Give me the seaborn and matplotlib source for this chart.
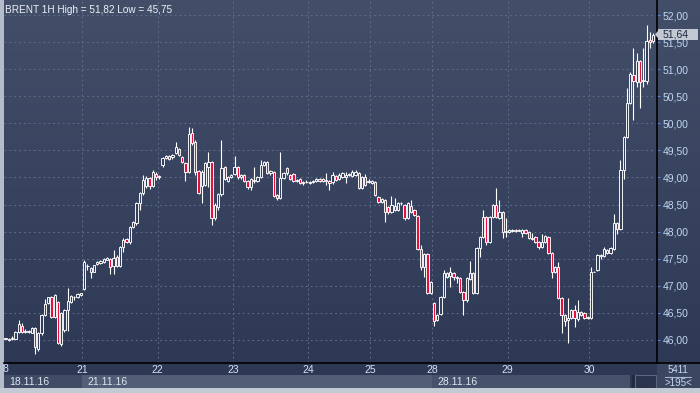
import numpy as np
import pandas as pd
import matplotlib
matplotlib.use("Agg")
import matplotlib.pyplot as plt
import matplotlib.transforms as mtransforms
from matplotlib.patches import Rectangle, Polygon
from matplotlib.colors import LinearSegmentedColormap
import seaborn as sns

# ── Styling ────────────────────────────────────────────────
sns.set_style("dark")
plt.rcParams["font.family"] = ["Liberation Sans", "DejaVu Sans"]

# ── Data (BRENT 1H candles) ────────────────────────────────
opens = [
    46.03, 46.02, 46.01, 46.02, 46.14, 46.25, 46.15, 46.16, 46.13, 46.22, 45.83, 46.13,
    46.46, 46.68, 46.79, 46.43, 46.70, 45.93, 46.19, 46.55, 46.70, 46.80, 46.80, 46.83,
    46.94, 47.37, 47.33, 47.26, 47.40, 47.42, 47.44, 47.48, 47.50, 47.36, 47.53, 47.37,
    47.72, 47.86, 47.81, 48.09, 48.16, 48.53, 48.71, 48.84, 48.99, 48.84, 49.07,
    49.00, 49.23, 49.36, 49.39, 49.37, 49.45, 49.53, 49.38, 49.27, 49.10, 49.82, 49.66,
    49.12, 48.84, 48.86, 49.20, 49.29, 48.25, 48.46, 48.69, 49.20, 48.94, 49.01,
    49.07, 49.20, 49.01, 49.05, 48.94, 48.82, 48.96, 48.94, 49.01, 49.23, 49.28, 49.09,
    49.10, 48.68, 48.62, 48.99, 49.18, 49.05, 49.07, 48.94, 48.97, 48.90, 48.91,
    48.92, 48.91, 48.94, 48.97, 48.94, 48.96, 48.94, 48.91, 49.03, 48.97, 49.01, 49.01,
    49.05, 49.03, 49.05, 49.08, 48.80, 49.01, 48.92,
    48.90, 48.92, 48.64, 48.55, 48.58, 48.45, 48.36, 48.47, 48.40, 48.53, 48.49, 48.25,
    48.47, 48.40, 48.29, 47.68, 47.35, 47.59, 46.87,
    46.68, 46.37, 46.48, 46.79, 47.24, 47.18, 47.24, 47.15, 47.14, 46.89, 46.73, 47.12,
    47.24, 46.87, 47.70, 47.90, 48.27, 47.81, 48.27, 48.49, 48.25, 48.36, 48.00,
    47.99, 48.02, 48.03, 48.02, 47.97, 48.03, 47.99, 47.87, 47.90, 47.81, 47.72, 47.81,
    47.90, 47.61, 47.26, 47.35, 46.78, 46.46, 46.37, 46.41, 46.55, 46.39, 46.52, 46.50,
    46.41,
    46.41, 47.26, 47.30, 47.57, 47.55, 47.66, 47.61, 47.68, 48.16, 48.05, 49.14, 49.75,
    50.38, 50.89, 50.76, 51.15, 50.78, 50.78, 51.54, 51.52,
]
highs = [
    46.04, 46.03, 46.07, 46.16, 46.36, 46.32, 46.20, 46.18, 46.24, 46.24, 46.14, 46.48,
    46.76, 46.80, 46.82, 46.84, 46.72, 46.52, 46.57, 46.96, 46.83, 46.82, 46.86, 46.87,
    47.47, 47.40, 47.35, 47.39, 47.46, 47.48, 47.52, 47.53, 47.52, 47.66, 47.56, 47.74,
    47.88, 47.88, 48.11, 48.20, 48.55, 48.74, 49.05, 49.02, 49.01, 49.13, 49.10,
    49.05, 49.38, 49.41, 49.41, 49.43, 49.66, 49.55, 49.40, 49.29, 49.93, 49.91, 49.70,
    49.14, 49.14, 49.29, 49.47, 49.31, 48.52, 48.71, 49.69, 49.22, 49.03, 49.06,
    49.40, 49.22, 49.07, 49.07, 48.96, 48.99, 49.20, 49.03, 49.32, 49.31, 49.30, 49.14,
    49.12, 48.70, 49.47, 49.10, 49.20, 49.07, 49.09, 48.98, 48.99, 48.93, 48.96,
    48.94, 48.96, 48.99, 48.99, 48.99, 49.08, 48.96, 49.10, 49.05, 49.08, 49.10, 49.10,
    49.08, 49.13, 49.13, 49.10, 49.02, 49.07, 48.97,
    48.96, 48.94, 48.66, 48.62, 48.60, 48.47, 48.65, 48.62, 48.55, 48.55, 48.51, 48.55,
    48.58, 48.42, 48.31, 47.75, 47.61, 47.61, 47.09,
    46.70, 46.48, 46.81, 47.30, 47.26, 47.35, 47.26, 47.18, 47.16, 46.91, 47.16, 47.46,
    47.26, 47.72, 47.92, 48.40, 48.29, 48.29, 48.51, 48.81, 48.58, 48.38, 48.25,
    48.05, 48.05, 48.04, 48.04, 48.05, 48.05, 48.01, 47.97, 47.92, 47.83, 47.95, 47.94,
    47.92, 47.63, 47.37, 47.44, 46.80, 46.48, 46.78, 46.57, 46.65, 46.74, 46.54, 46.52,
    46.44,
    47.35, 47.27, 47.59, 47.59, 47.72, 47.68, 47.72, 48.33, 48.18, 49.32, 49.77, 50.65,
    50.95, 51.39, 51.30, 51.17, 51.39, 51.82, 51.68, 51.67,
]
lows = [
    46.01, 45.99, 46.00, 46.01, 46.12, 46.12, 46.13, 46.13, 46.12, 45.75, 45.80, 46.10,
    46.44, 46.66, 46.41, 46.41, 45.92, 45.88, 46.15, 46.17, 46.68, 46.74, 46.78, 46.82,
    46.93, 47.30, 47.14, 47.25, 47.39, 47.40, 47.43, 47.47, 47.21, 47.21, 47.35, 47.35,
    47.62, 47.79, 47.78, 48.06, 48.12, 48.40, 48.68, 48.80, 48.78, 48.82, 48.95,
    48.97, 49.20, 49.35, 49.33, 49.35, 49.44, 49.40, 49.27, 48.94, 49.08, 49.60, 49.05,
    48.69, 48.53, 48.84, 48.82, 48.12, 48.22, 48.40, 48.66, 48.95, 48.92, 48.99,
    49.05, 48.98, 48.98, 48.92, 48.79, 48.76, 48.90, 48.92, 48.99, 49.21, 49.06, 49.05,
    48.64, 48.58, 48.60, 48.97, 49.05, 48.95, 48.92, 48.92, 48.88, 48.86, 48.89,
    48.88, 48.89, 48.92, 48.91, 48.92, 48.86, 48.77, 48.88, 48.94, 48.95, 48.99, 48.90,
    49.03, 49.01, 49.03, 48.78, 48.78, 48.84, 48.90,
    48.88, 48.66, 48.53, 48.53, 48.18, 48.33, 48.34, 48.38, 48.38, 48.50, 48.22, 48.23,
    48.34, 48.29, 47.66, 47.30, 47.16, 46.85, 46.85,
    46.26, 46.35, 46.46, 46.77, 47.14, 46.98, 47.10, 47.05, 46.87, 46.46, 46.71, 47.10,
    46.85, 46.85, 47.53, 47.88, 47.75, 47.79, 48.25, 48.25, 48.23, 47.88, 47.90,
    47.97, 48.00, 48.00, 48.01, 47.90, 47.95, 47.86, 47.85, 47.79, 47.68, 47.70, 47.79,
    47.59, 47.14, 47.24, 46.76, 46.13, 46.26, 45.94, 46.39, 46.24, 46.35, 46.44, 46.39,
    46.39,
    46.39, 47.25, 47.28, 47.50, 47.53, 47.59, 47.59, 47.66, 47.96, 48.03, 48.97, 49.73,
    50.36, 50.06, 50.67, 50.28, 50.67, 50.72, 51.39, 51.48,
]
closes = [
    46.02, 46.00, 46.04, 46.15, 46.29, 46.15, 46.16, 46.15, 46.22, 45.87, 46.13, 46.46,
    46.67, 46.79, 46.43, 46.83, 45.94, 46.50, 46.55, 46.72, 46.81, 46.79, 46.85, 46.86,
    47.44, 47.36, 47.26, 47.38, 47.44, 47.46, 47.50, 47.51, 47.35, 47.52, 47.37, 47.72,
    47.85, 47.81, 48.09, 48.18, 48.53, 48.71, 48.95, 48.99, 48.84, 49.10, 49.01,
    49.02, 49.36, 49.39, 49.35, 49.41, 49.56, 49.42, 49.29, 49.10, 49.80, 49.64, 49.10,
    48.71, 49.10, 49.27, 49.29, 48.25, 48.49, 48.69, 49.18, 48.98, 49.01, 49.04,
    49.20, 49.01, 49.05, 48.94, 48.82, 48.97, 48.94, 49.01, 49.23, 49.29, 49.09, 49.12,
    48.66, 48.62, 48.99, 49.08, 49.08, 48.97, 48.94, 48.96, 48.90, 48.91, 48.92,
    48.90, 48.94, 48.97, 48.94, 48.97, 48.93, 48.90, 49.04, 48.96, 49.05, 49.08, 49.05,
    49.06, 49.10, 49.10, 48.80, 49.00, 48.86, 48.94,
    48.94, 48.68, 48.55, 48.60, 48.36, 48.36, 48.49, 48.40, 48.53, 48.52, 48.25, 48.53,
    48.36, 48.31, 47.68, 47.35, 47.59, 46.87, 47.07,
    46.35, 46.46, 46.79, 47.24, 47.16, 47.26, 47.16, 47.16, 46.89, 46.73, 47.14, 47.24,
    46.87, 47.70, 47.90, 48.27, 47.81, 48.27, 48.49, 48.27, 48.36, 47.99, 48.01,
    48.03, 48.03, 48.02, 48.03, 48.03, 47.97, 47.88, 47.88, 47.81, 47.72, 47.81, 47.92,
    47.61, 47.26, 47.35, 46.78, 46.46, 46.35, 46.40, 46.55, 46.41, 46.52, 46.46, 46.41,
    46.42,
    47.26, 47.26, 47.57, 47.55, 47.68, 47.61, 47.70, 48.16, 48.05, 49.14, 49.75, 50.38,
    50.91, 50.78, 51.15, 50.76, 50.80, 51.52, 51.50, 51.64,
]

day_labels = ["21", "22", "23", "24", "25", "28", "29", "30"]
day_starts = [24, 47, 70, 93, 112, 131, 154, 179]
week_labels = ["18.11.16", "21.11.16", "28.11.16"]
week_starts = [0, 24, 131]
y_ticks = [46.0, 46.5, 47.0, 47.5, 48.0, 48.5, 49.0, 49.5, 50.0, 50.5, 51.0, 51.5, 52.0]
title = "BRENT 1H High = 51,82 Low = 45,75"
first_day_label = "8"  # "18" is cut by the window edge, only "8" shows
last_price = closes[-1]
bar_info = ["5411", ">195<"]

df = pd.DataFrame({"open": opens, "high": highs, "low": lows, "close": closes})
df["idx"] = np.arange(len(df))
df["up"] = df["close"] >= df["open"]

# ── Figure & background ────────────────────────────────────
W, H = 700, 393
fig = plt.figure(figsize=(W / 100, H / 100), dpi=100)
bg = fig.add_axes([0, 0, 1, 1], zorder=0)
grad = np.linspace(0, 1, 256).reshape(-1, 1)
cmap = LinearSegmentedColormap.from_list("bg", ["#434f69", "#2c3754"])
bg.imshow(grad, aspect="auto", cmap=cmap, extent=[0, 1, 0, 1], origin="upper")
bg.set_xlim(0, 1); bg.set_ylim(0, 1)
bg.axis("off")
# window borders + right bottom panel
bg.add_patch(Rectangle((0, 0), 4 / W, 1, color="#b4bcca", lw=0))
bg.add_patch(Rectangle((0, 0), 1, 5 / H, color="#c4cad4", lw=0))
bg.add_patch(Rectangle((657 / W, 5 / H), 43 / W, 25 / H, color="#3b4761", lw=0))
bg.plot([657 / W, 1], [30 / H, 30 / H], color="black", lw=1.2)
bg.plot([665 / W, 691 / W], [16 / H, 16 / H], color="#a9b6cc", lw=0.8)

# ── Main price axes ────────────────────────────────────────
ax = fig.add_axes([4 / W, 30 / H, 653 / W, 363 / H], zorder=1)
ax.set_facecolor("none")

ax.vlines(df["idx"], df["low"], df["high"], color="white", lw=0.8, zorder=3)
upc = df[df["up"]]
dnc = df[~df["up"]]
ax.bar(upc["idx"], upc["close"] - upc["open"], bottom=upc["open"], width=0.7,
       facecolor="#34405b", edgecolor="white", linewidth=0.65, zorder=4)
ax.bar(dnc["idx"], dnc["open"] - dnc["close"], bottom=dnc["close"], width=0.7,
       facecolor="#e5103d", edgecolor="white", linewidth=0.65, zorder=4)

ax.set_xlim(-0.5, 199.2)
ax.set_ylim(45.575, 52.277)

ax.set_xticks(np.array(day_starts) - 0.5, labels=day_labels)
ax.set_yticks(y_ticks, labels=[f"{v:.2f}".replace(".", ",") for v in y_ticks])
ax.yaxis.tick_right()
ax.tick_params(axis="x", length=0, pad=1.5, labelsize=7.5, labelcolor="#d6e2f6")
ax.tick_params(axis="y", length=2.5, width=0.8, color="#4f86d8", pad=1.5,
               labelsize=7.5, labelcolor="#c2d6f4", right=True, left=False)
ax.grid(True, color="#5e6b87", lw=0.7, linestyle=(0, (2, 3)))
for s in ["left", "top"]:
    ax.spines[s].set_visible(False)
for s in ["right", "bottom"]:
    ax.spines[s].set_visible(True)
    ax.spines[s].set_color("black")
    ax.spines[s].set_linewidth(1.2)

ax.text(0.002, 0.985, title, transform=ax.transAxes, ha="left", va="top",
        fontsize=7.2, color="#eef2f8", zorder=6)

# last price tag on the right scale
trans = mtransforms.blended_transform_factory(ax.transAxes, ax.transData)
tag_h = 0.19
ax.add_patch(Rectangle((1.002, last_price - tag_h / 2), 40 / 653, tag_h,
                       transform=trans, clip_on=False, facecolor="#c3c9d3",
                       edgecolor="none", zorder=7))
ax.add_patch(Polygon([[0.997, last_price], [1.003, last_price + 0.09],
                      [1.003, last_price - 0.09]], closed=True, transform=trans,
                     clip_on=False, facecolor="#c3c9d3", edgecolor="none", zorder=7))
ax.text(1.008, last_price, f"{last_price:.2f}".replace(".", ","), transform=trans,
        ha="left", va="center", fontsize=7.5, color="#1c2640", zorder=8, clip_on=False)

# first (cut) day label at the left edge
fig.text(5 / W, (H - 369) / H, first_day_label, ha="center", va="center",
         fontsize=7.5, color="#d6e2f6")

# ── Bottom week strip ──────────────────────────────────────
strip = fig.add_axes([4 / W, 5 / H, 653 / W, 13 / H], zorder=1)
strip.set_xlim(ax.get_xlim())
strip.set_ylim(0, 1)
strip.axis("off")
x0, x1 = ax.get_xlim()
strip_end = x0 + (x1 - x0) * (626 / 653)
ends = week_starts[1:] + [strip_end + 0.5]
week_cols = ["#404c65", "#525e76", "#46526b"]
for lab, ws, we, col in zip(week_labels, week_starts, ends, week_cols):
    left = ws - 0.5 if ws > 0 else x0 - 2
    strip.axvspan(left, we - 0.5, color=col, lw=0)
    strip.text(ws - 0.5 + 1.5, 0.45, lab, ha="left", va="center", fontsize=7.5,
               color="#dfe6f2")
strip.add_patch(Rectangle((628 / 653, 0), 3 / 653, 1, transform=strip.transAxes,
                          color="#222a3d", lw=0))
strip.add_patch(Rectangle((631 / 653, 0.02), 21 / 653, 0.96, transform=strip.transAxes,
                          facecolor="#29334d", edgecolor="#5b6680", lw=0.8))

# right panel info
fig.text(678 / W, (H - 370) / H, bar_info[0], ha="center", va="center", fontsize=7,
         color="#c8d6ee")
fig.text(678 / W, (H - 383) / H, bar_info[1], ha="center", va="center", fontsize=7,
         color="#c8d6ee")

fig.savefig("out.png", dpi=100)
plt.close(fig)
